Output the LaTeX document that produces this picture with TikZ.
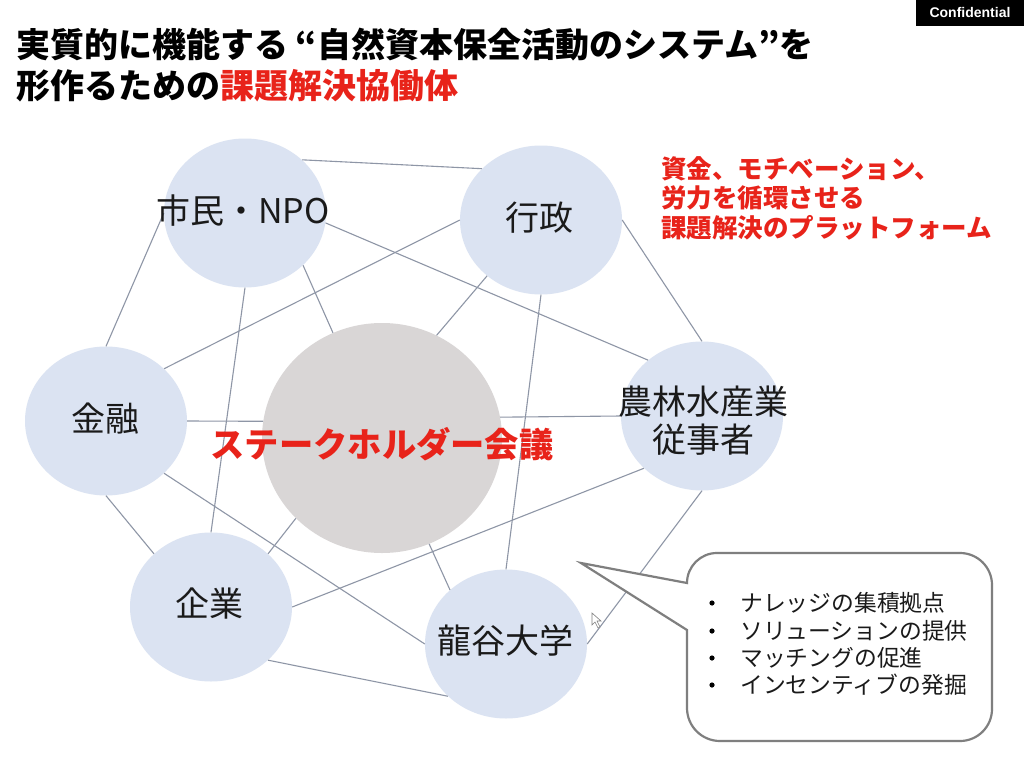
\documentclass[tikz,border=0pt]{standalone}
\usepackage{fontspec}
\setmainfont{Noto Sans CJK JP}
\newfontfamily\latinfont{Liberation Sans}
\usetikzlibrary{shapes.geometric}
\definecolor{blobblue}{HTML}{DBE3F2}
\definecolor{blobgray}{HTML}{D9D6D6}
\definecolor{linkgray}{HTML}{8E96A6}
\definecolor{alertred}{HTML}{E8231A}
\definecolor{calloutgray}{HTML}{7F7F7F}
\definecolor{inkblack}{HTML}{1A1A1A}
\tikzset{
    blob/.style={ellipse,fill=blobblue,minimum width=162pt,minimum height=149pt,inner sep=0pt},
    hub/.style={ellipse,fill=blobgray,minimum width=240pt,minimum height=230pt,inner sep=0pt},
    link/.style={draw=linkgray,line width=1.1pt},
    blobtext/.style={font=\fontsize{34}{38}\selectfont,text=inkblack,align=center,inner sep=0pt},
    titletext/.style={font=\fontsize{34}{38}\selectfont\bfseries,anchor=west,inner sep=0pt},
    redtext/.style={font=\fontsize{25.5}{30}\selectfont\bfseries,text=alertred,anchor=west,inner sep=0pt},
    pointtext/.style={font=\fontsize{22.8}{27}\selectfont,text=inkblack,anchor=west,inner sep=0pt}
}
\begin{document}
\begin{tikzpicture}[x=1pt,y=-1pt]
    \useasboundingbox (0,0) rectangle (1024,765);
    \fill[white] (0,0) rectangle (1024,765);
    \node[blob] (shimin) at (245,213) {};
    \node[blob] (gyosei) at (541,220) {};
    \node[blob] (kinyu) at (106,421) {};
    \node[hub] (kaigi) at (382,438) {};
    \node[blob] (nourin) at (702,416) {};
    \node[blob] (kigyo) at (211,607) {};
    \node[blob] (ryukoku) at (506,644) {};
    \draw[link] (shimin.43) -- (gyosei.139);
    \draw[link] (shimin.-7) -- (nourin.134);
    \draw[link] (shimin.180) -- (kinyu.90);
    \draw[link] (shimin.-90) -- (kigyo.90);
    \draw[link] (shimin.-42) -- (kaigi.115);
    \draw[link] (gyosei.180) -- (kinyu.42);
    \draw[link] (gyosei.-134) -- (kaigi.62);
    \draw[link] (gyosei.0) -- (nourin.90);
    \draw[link] (gyosei.-90) -- (ryukoku.90);
    \draw[link] (kinyu.0) -- (kaigi.172);
    \draw[link] (kinyu.-90) -- (kigyo.137);
    \draw[link] (kinyu.-42) -- (ryukoku.180);
    \draw[link] (kaigi.10) -- (nourin.180);
    \draw[link] (kaigi.-137) -- (kigyo.43);
    \draw[link] (kaigi.-66) -- (ryukoku.136);
    \draw[link] (nourin.-138) -- (kigyo.0);
    \draw[link] (nourin.-90) -- (ryukoku.0);
    \draw[link] (kigyo.-43) -- (ryukoku.-138);
    \node[blobtext] (shimintext) at (243,211) {市民・NPO};
    \node[blobtext] (gyoseitext) at (539,218) {行政};
    \node[blobtext] (kinyutext) at (105,419) {金融};
    \node[blobtext] (nourintext) at (703,421) {農林水産業\\従事者};
    \node[blobtext] (kigyotext) at (209,604) {企業};
    \node[blobtext] (ryukokutext) at (505,641) {龍谷大学};
    \node[font=\fontsize{34.3}{38}\selectfont\bfseries,text=alertred,inner sep=0pt] (kaigitext) at (382,444) {ステークホルダー会議};
    \node[titletext] (titleone) at (16,45) {実質的に機能する “自然資本保全活動のシステム”を};
    \node[titletext] (titletwo) at (16,86) {形作るための\textcolor{alertred}{課題解決協働体}};
    \fill[black] (916,0) rectangle (1024,26);
    \node[font=\latinfont\fontsize{14}{16}\selectfont\bfseries,text=white,inner sep=0pt] (confidential) at (970,12) {Confidential};
    \node[redtext] (redone) at (661,169) {資金、モチベーション、};
    \node[redtext] (redtwo) at (661,198) {労力を循環させる};
    \node[redtext] (redthree) at (661,228) {課題解決のプラットフォーム};
    \draw[calloutgray,line width=2.2pt,fill=white,line join=miter]
        (687,583) arc[start angle=180,end angle=270,radius=30] -- (960,553)
        arc[start angle=270,end angle=360,radius=32] -- (992,709)
        arc[start angle=0,end angle=90,radius=32] -- (720,741)
        arc[start angle=90,end angle=180,radius=33] -- (687,630) -- (581,563) -- cycle;
    \foreach \i/\y/\t in {a/603/ナレッジの集積拠点,b/631/ソリューションの提供,c/658/マッチングの促進,d/685/インセンティブの発掘} {
        \fill[black] (712,\y) circle (2.6);
        \node[pointtext] (point\i) at (740,\y) {\t};
    }
    \draw[gray,fill=white,line width=0.6pt] (592,613) -- (592,625) -- (595,622) -- (598,628) -- (600,627) -- (597,621) -- (601,621) -- cycle;
\end{tikzpicture}
\end{document}
